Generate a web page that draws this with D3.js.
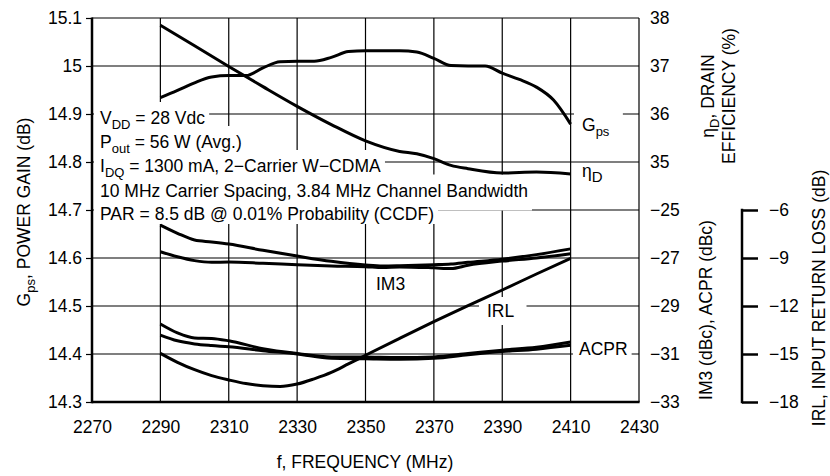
<!DOCTYPE html>
<html><head><meta charset="utf-8">
<script src="https://cdn.jsdelivr.net/npm/d3@7"></script>
<style>
html,body{margin:0;padding:0;background:#fff;}
svg{display:block;}
text{font-family:"Liberation Sans",Arial,Helvetica,sans-serif;fill:#000;}
</style></head><body>
<svg id="chart" width="830" height="476"></svg>
<script>
// ---------- data ----------
const freqTicks = [2270, 2290, 2310, 2330, 2350, 2370, 2390, 2410, 2430];
const gainTicks = [14.3, 14.4, 14.5, 14.6, 14.7, 14.8, 14.9, 15.0, 15.1];
const gainTickLabels = ["14.3", "14.4", "14.5", "14.6", "14.7", "14.8", "14.9", "15", "15.1"];
const effTicks = [35, 36, 37, 38];
const effTickLabels = ["35", "36", "37", "38"];
const imTicks = [-33, -31, -29, -27, -25];
const imTickLabels = ["\u221233", "\u221231", "\u221229", "\u221227", "\u221225"];
const irlTicks = [-18, -15, -12, -9, -6];
const irlTickLabels = ["\u221218", "\u221215", "\u221212", "\u22129", "\u22126"];

// Gps, power gain (dB) - left axis
const gpsFreq   = [2290, 2295, 2300, 2305, 2310, 2315, 2320, 2325, 2330, 2335, 2340, 2345, 2350, 2355, 2360, 2365, 2370, 2375, 2380, 2385, 2390, 2395, 2400, 2405, 2410];
const gpsValues = [14.934, 14.949, 14.965, 14.977, 14.980, 14.980, 14.996, 15.009, 15.010, 15.010, 15.018, 15.030, 15.032, 15.032, 15.032, 15.029, 15.016, 15.001, 15.000, 15.000, 14.985, 14.972, 14.956, 14.929, 14.879];

// eta D, drain efficiency (%) - right axis
const effFreq   = [2290, 2300, 2310, 2320, 2330, 2340, 2350, 2360, 2365, 2370, 2375, 2380, 2390, 2400, 2410];
const effValues = [37.85, 37.42, 36.99, 36.57, 36.16, 35.78, 35.44, 35.22, 35.17, 35.07, 34.93, 34.86, 34.77, 34.79, 34.75];

// IM3 (dBc), two curves
const im3Freq    = [2290, 2295, 2300, 2305, 2310, 2320, 2330, 2340, 2350, 2355, 2360, 2370, 2375, 2380, 2390, 2400, 2410];
const im3UValues = [-25.63, -25.97, -26.25, -26.33, -26.42, -26.68, -26.92, -27.14, -27.29, -27.33, -27.32, -27.28, -27.25, -27.18, -27.05, -26.86, -26.62];
const im3LValues = [-26.74, -26.95, -27.11, -27.18, -27.17, -27.22, -27.28, -27.33, -27.36, -27.40, -27.37, -27.41, -27.44, -27.30, -27.13, -27.00, -26.82];

// ACPR (dBc), two curves
const acprFreq    = [2290, 2295, 2300, 2305, 2310, 2320, 2330, 2340, 2350, 2360, 2370, 2380, 2390, 2400, 2410];
const acprUValues = [-29.75, -30.12, -30.33, -30.35, -30.45, -30.78, -30.98, -31.12, -31.13, -31.15, -31.12, -30.98, -30.84, -30.72, -30.50];
const acprLValues = [-30.21, -30.45, -30.58, -30.65, -30.70, -30.86, -31.00, -31.18, -31.20, -31.22, -31.18, -31.03, -30.90, -30.80, -30.64];

// IRL, input return loss (dB)
const irlFreq   = [2290, 2295, 2300, 2305, 2310, 2315, 2320, 2325, 2330, 2335, 2340, 2345, 2350, 2360, 2370, 2380, 2390, 2400, 2410];
const irlValues = [-14.96, -15.52, -15.98, -16.35, -16.62, -16.85, -16.98, -17.03, -16.88, -16.55, -16.15, -15.62, -15.08, -14.02, -12.98, -11.98, -11.00, -10.00, -9.02];

// annotation
const noteLines = [
  [{t: "V"}, {t: "DD", sub: true}, {t: " = 28 Vdc"}],
  [{t: "P"}, {t: "out", sub: true}, {t: " = 56 W (Avg.)"}],
  [{t: "I"}, {t: "DQ", sub: true}, {t: " = 1300 mA, 2\u2212Carrier W\u2212CDMA"}],
  [{t: "10 MHz Carrier Spacing, 3.84 MHz Channel Bandwidth"}],
  [{t: "PAR = 8.5 dB @ 0.01% Probability (CCDF)"}]
];

// ---------- layout ----------
const W = 830, H = 476;
const L = 92, R = 639, T = 18, B = 402;
const FS = 17.5, SUBFS = 13;

const svg = d3.select("#chart");
svg.append("rect").attr("width", W).attr("height", H).attr("fill", "#fff");

const x = d3.scaleLinear().domain([2270, 2430]).range([L, R]);
const yGain = d3.scaleLinear().domain([14.3, 15.1]).range([B, T]);
const yEff = d3.scaleLinear().domain([34, 38]).range([210, T]);
const yIM = d3.scaleLinear().domain([-33, -25]).range([B, 210]);
const yIRL = d3.scaleLinear().domain([-18, -6]).range([B, 210]);

const gGrid = svg.append("g");
const gMask = svg.append("g");
const gCurves = svg.append("g");
const gText = svg.append("g");
const gAxes = svg.append("g");

// grid
gGrid.selectAll("line.v").data(freqTicks.slice(1, -1)).join("line")
  .attr("x1", d => x(d)).attr("x2", d => x(d)).attr("y1", T).attr("y2", B)
  .attr("stroke", "#000").attr("stroke-width", 1.2);
gGrid.selectAll("line.h").data(gainTicks.slice(1, -1)).join("line")
  .attr("x1", L).attr("x2", R).attr("y1", d => yGain(d)).attr("y2", d => yGain(d))
  .attr("stroke", "#000").attr("stroke-width", 1.2);

function rich(textSel, parts, subSize, shiftAmt) {
  let shift = 0;
  parts.forEach(p => {
    const s = p.sub ? shiftAmt : 0;
    const ts = textSel.append("tspan").attr("dy", s - shift).text(p.t);
    if (p.sub) ts.attr("font-size", subSize);
    shift = s;
  });
  return textSel;
}

function maskBox(x0, y0, x1, y1) {
  gMask.append("rect").attr("x", x0).attr("y", y0).attr("width", x1 - x0).attr("height", y1 - y0).attr("fill", "#fff");
}

// annotation block
const noteBase = [124, 148, 172, 196.5, 220];
noteLines.forEach((parts, i) => {
  const t = gText.append("text").attr("x", 100).attr("y", noteBase[i]).attr("font-size", FS);
  rich(t, parts, SUBFS, 5);
  const bb = t.node().getBBox();
  const bottom = i === noteLines.length - 1 ? noteBase[i] + 4 : noteBase[i] + 14;
  maskBox(94, noteBase[i] - 22, bb.x + bb.width + 4, bottom);
});

// curve labels
function curveLabel(parts, lx, ly, box, subSize, shiftAmt) {
  const t = gText.append("text").attr("x", lx).attr("y", ly).attr("font-size", FS);
  rich(t, parts, subSize || SUBFS, shiftAmt || 5);
  if (box) {
    const bb = t.node().getBBox();
    maskBox(bb.x - box[0], ly - box[1], bb.x + bb.width + box[2], ly + box[3]);
  }
}
curveLabel([{t: "G"}, {t: "ps", sub: true}], 582, 131, [8, 19, 13, 7]);
curveLabel([{t: "\u03B7"}, {t: "D", sub: true}], 582, 177, null, 15, 5);
curveLabel([{t: "IM3"}], 376, 290, [3, 16, 3, 4]);
curveLabel([{t: "IRL"}], 487, 317, [8, 20, 12, 8]);
curveLabel([{t: "ACPR"}], 579, 355, [6, 18, 4, 7]);

// curves
function drawCurve(fr, vals, yS) {
  const line = d3.line().x((d, i) => x(fr[i])).y(d => yS(d)).curve(d3.curveMonotoneX);
  gCurves.append("path").datum(vals).attr("d", line)
    .attr("fill", "none").attr("stroke", "#000").attr("stroke-width", 3)
    .attr("stroke-linejoin", "round").attr("stroke-linecap", "butt");
}
drawCurve(gpsFreq, gpsValues, yGain);
drawCurve(effFreq, effValues, yEff);
drawCurve(im3Freq, im3UValues, yIM);
drawCurve(im3Freq, im3LValues, yIM);
drawCurve(acprFreq, acprUValues, yIM);
drawCurve(acprFreq, acprLValues, yIM);
drawCurve(irlFreq, irlValues, yIRL);

// axes
function styleAxis(g, fs) {
  g.select(".domain").remove();
  g.selectAll("text").attr("font-size", fs).attr("font-family", '"Liberation Sans",Arial,sans-serif').attr("fill", "#000");
}
const axL = gAxes.append("g").attr("transform", `translate(${L},0)`)
  .call(d3.axisLeft(yGain).tickValues(gainTicks).tickFormat((d, i) => gainTickLabels[i]).tickSize(6).tickPadding(4));
styleAxis(axL, FS);
axL.selectAll(".tick line").attr("stroke-width", 1.2);

const axB = gAxes.append("g").attr("transform", `translate(0,${B})`)
  .call(d3.axisBottom(x).tickValues(freqTicks).tickFormat(d => String(d)).tickSize(0).tickPadding(19));
styleAxis(axB, FS);

const axE = gAxes.append("g").attr("transform", `translate(${R},0)`)
  .call(d3.axisRight(yEff).tickValues(effTicks).tickFormat((d, i) => effTickLabels[i]).tickSize(0).tickPadding(11));
styleAxis(axE, FS);

const axI = gAxes.append("g").attr("transform", `translate(${R},0)`)
  .call(d3.axisRight(yIM).tickValues(imTicks).tickFormat((d, i) => imTickLabels[i]).tickSize(0).tickPadding(11));
styleAxis(axI, FS);

const axR = gAxes.append("g").attr("transform", "translate(742,0)")
  .call(d3.axisRight(yIRL).tickValues(irlTicks).tickFormat((d, i) => irlTickLabels[i]).tickSize(16).tickPadding(11));
styleAxis(axR, FS);
axR.selectAll(".tick line").attr("stroke-width", 2.5);
axR.append("line").attr("x1", 0).attr("x2", 0).attr("y1", yIRL(-6) - 1.25).attr("y2", yIRL(-18) + 1.25)
  .attr("stroke", "#000").attr("stroke-width", 2.5);

// frame
gAxes.append("line").attr("x1", L).attr("x2", R).attr("y1", T).attr("y2", T).attr("stroke", "#000").attr("stroke-width", 1.2);
gAxes.append("line").attr("x1", R).attr("x2", R).attr("y1", T).attr("y2", B).attr("stroke", "#000").attr("stroke-width", 1.2);
gAxes.append("line").attr("x1", L).attr("x2", L).attr("y1", T - 0.6).attr("y2", B + 1.25).attr("stroke", "#000").attr("stroke-width", 2.5);
gAxes.append("line").attr("x1", L).attr("x2", R + 0.6).attr("y1", B).attr("y2", B).attr("stroke", "#000").attr("stroke-width", 2.5);

// axis titles
function title(tx, ty, rot, parts) {
  const g = gText.append("g").attr("transform", `translate(${tx},${ty})` + (rot ? ` rotate(${rot})` : ""));
  const t = g.append("text").attr("text-anchor", "middle").attr("font-size", FS);
  rich(t, parts, SUBFS, 5);
}
title(365, 468, 0, [{t: "f, FREQUENCY (MHz)"}]);
title(30, 212, -90, [{t: "G"}, {t: "ps", sub: true}, {t: ", POWER GAIN (dB)"}]);
title(714, 96, -90, [{t: "\u03B7"}, {t: "D", sub: true}, {t: ", DRAIN"}]);
title(735, 96, -90, [{t: "EFFICIENCY (%)"}]);
title(712, 310, -90, [{t: "IM3 (dBc), ACPR (dBc)"}]);
title(825, 298, -90, [{t: "IRL, INPUT RETURN LOSS (dB)"}]);
</script>
</body></html>
